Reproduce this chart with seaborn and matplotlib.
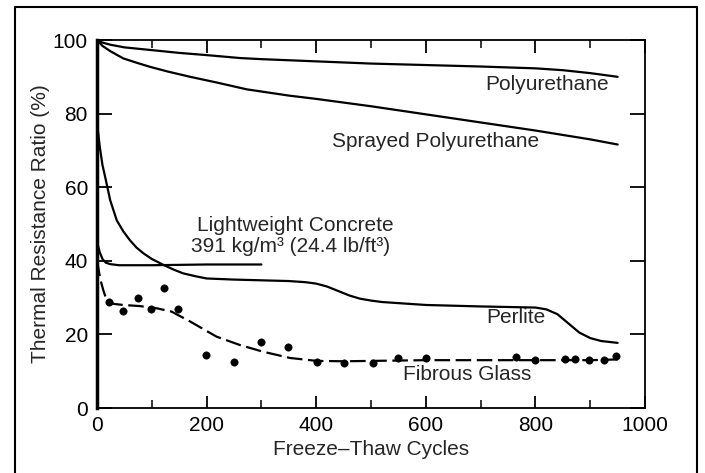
import numpy as np
import pandas as pd
import seaborn as sns
import matplotlib.pyplot as plt
from matplotlib.lines import Line2D
from matplotlib.ticker import MultipleLocator

# values
poly_x = [0, 10, 25, 50, 97, 150, 200, 261, 300, 400, 500, 600, 700, 800, 850, 900, 950]
poly_y = [100, 99.3, 98.7, 98.0, 97.3, 96.5, 95.9, 95.1, 94.8, 94.2, 93.6, 93.2, 92.8, 92.3, 91.8, 91.0, 90.0]

spray_x = [0, 5, 10, 25, 48, 75, 97, 130, 170, 220, 273, 350, 400, 500, 600, 700, 800, 900, 950]
spray_y = [100, 99.2, 98.4, 96.9, 95.0, 93.7, 92.7, 91.4, 90.0, 88.4, 86.6, 84.9, 84.0, 82.0, 79.8, 77.6, 75.4, 73.0, 71.6]

concrete_x = [0, 2, 5, 10, 16, 24, 40, 100, 200, 300]
concrete_y = [46, 44, 42.3, 40.5, 39.5, 39.1, 38.8, 38.8, 39.0, 39.0]

perlite_x = [0, 2, 5, 10, 15, 24, 36, 48, 60, 72, 85, 100, 121, 140, 157, 180, 200, 250, 300, 350,
             380, 400, 420, 440, 460, 480, 500, 520, 600, 700, 800, 820, 840, 860, 880, 900, 920, 950]
perlite_y = [77, 75, 71, 66, 62.7, 56.5, 51, 48, 45.6, 43.6, 42, 40.5, 38.9, 37.6, 36.6, 35.8, 35.2, 34.9, 34.7, 34.5,
             34.2, 33.8, 33.0, 31.8, 30.6, 29.7, 29.2, 28.8, 28.0, 27.6, 27.3, 26.8, 25.5, 23.0, 20.5, 19.0, 18.2, 17.7]

glass_x = [0, 2, 6, 11.5, 17.7, 30, 48, 78, 109, 136, 170, 218, 261, 303, 352, 401, 450, 500, 600, 700, 800, 900, 950]
glass_y = [40, 38.4, 35, 32, 29.2, 28.3, 28.0, 27.7, 27.1, 26.2, 23.5, 19.4, 17.1, 15.3, 13.6, 12.8, 12.7,
           12.8, 13.0, 13.0, 13.0, 13.0, 13.2]

dots_x = [22, 48, 74, 99, 122, 147, 199, 250, 300, 349, 401, 451, 504, 550,
          601, 764, 799, 854, 872, 898, 925, 947]
dots_y = [28.9, 26.4, 29.8, 26.9, 32.5, 26.9, 14.4, 12.6, 17.9, 16.5, 12.4, 12.3, 12.3, 13.5,
          13.7, 13.9, 13.0, 13.3, 13.3, 13.0, 13.0, 14.1]

sns.set_style('ticks')
plt.rcParams['font.family'] = ['Liberation Sans', 'DejaVu Sans']

fig = plt.figure(figsize=(7.05, 4.73), dpi=100)
ax = fig.add_axes([0.1376, 0.1374, 0.915 - 0.1376, 0.9154 - 0.1374])

lw = 1.6
sns.lineplot(x=poly_x, y=poly_y, color='black', lw=lw, ax=ax)
sns.lineplot(x=spray_x, y=spray_y, color='black', lw=lw, ax=ax)
sns.lineplot(x=concrete_x, y=concrete_y, color='black', lw=lw, ax=ax)
sns.lineplot(x=perlite_x, y=perlite_y, color='black', lw=lw, ax=ax)
sns.lineplot(x=glass_x, y=glass_y, color='black', lw=lw, ax=ax,
             linestyle=(0, (7, 2.5)))
sns.scatterplot(x=dots_x, y=dots_y, color='black', s=28, edgecolor='black', ax=ax, zorder=5)

ax.set_xlim(0, 1000)
ax.set_ylim(0, 100)
ax.xaxis.set_major_locator(MultipleLocator(200))
ax.xaxis.set_minor_locator(MultipleLocator(100))
ax.yaxis.set_major_locator(MultipleLocator(20))

for sp in ax.spines.values():
    sp.set_linewidth(1.3)
    sp.set_color('black')
ax.spines['left'].set_linewidth(2.5)

ax.tick_params(axis='both', which='major', direction='in', length=9, width=1.3,
               labelsize=15, colors='black', top=True, right=True)
ax.tick_params(axis='x', which='minor', direction='in', length=6, width=1.3, top=True)
ax.tick_params(axis='x', which='major', pad=6)
ax.tick_params(axis='y', which='major', pad=6.5, length=11)

ax.set_xlabel('Freeze\u2013Thaw Cycles', fontsize=15, labelpad=3)
ax.set_ylabel('Thermal Resistance Ratio (%)', fontsize=15, labelpad=2)

fs = 15
ax.text(822, 88, 'Polyurethane', fontsize=fs, ha='center', va='center')
ax.text(617, 72.4, 'Sprayed Polyurethane', fontsize=fs, ha='center', va='center')
ax.text(362, 49.7, 'Lightweight Concrete', fontsize=fs, ha='center', va='center')
ax.text(354, 43.8, '391 kg/m\u00b3 (24.4 lb/ft\u00b3)', fontsize=fs, ha='center', va='center')
ax.text(764, 24.5, 'Perlite', fontsize=fs, ha='center', va='center')
ax.text(676, 9, 'Fibrous Glass', fontsize=fs, ha='center', va='center')

# outer border around the figure
for xs, ys in [([0.021, 0.021], [0.0, 0.985]), ([0.021, 0.989], [0.985, 0.985]),
               ([0.989, 0.989], [0.985, 0.0])]:
    fig.add_artist(Line2D(xs, ys, transform=fig.transFigure, color='black', lw=1.5))

fig.savefig('out.png', dpi=100)
